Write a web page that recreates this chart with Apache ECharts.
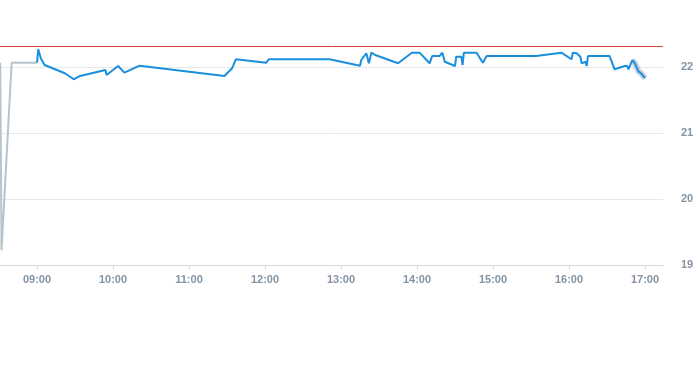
<!DOCTYPE html>
<html>
<head>
<meta charset="utf-8">
<script src="https://cdn.jsdelivr.net/npm/echarts@6/dist/echarts.min.js"></script>
<style>html,body{margin:0;padding:0;background:#fff}#c{width:693px;height:365px}</style>
</head>
<body>
<div id="c"></div>
<script>
// ---- data ----
const preTimes = ["08:31", "08:32", "08:40", "09:00"];
const preValues = [22.065, 19.225, 22.065, 22.065];

const times = ["09:00","09:01","09:03","09:06","09:22","09:29","09:34","09:54","09:55","10:04",
  "10:09","10:21","11:28","11:34","11:37","12:01","12:03","12:51","13:15","13:16",
  "13:20","13:22","13:24","13:27","13:45","13:56","14:02","14:10","14:12","14:18",
  "14:20","14:22","14:30","14:31","14:35","14:36","14:37","14:47","14:52","14:55",
  "15:34","15:54","16:02","16:03","16:06","16:09","16:10","16:13","16:14","16:15",
  "16:32","16:36","16:44","16:46","16:47","16:50","16:52","16:55","16:57","17:00"];
const values = [22.065,22.268,22.132,22.03,21.905,21.814,21.864,21.955,21.879,22.015,
  21.914,22.02,21.864,21.98,22.117,22.065,22.117,22.117,22.02,22.106,
  22.208,22.056,22.217,22.182,22.056,22.217,22.217,22.056,22.167,22.167,
  22.217,22.08,22.015,22.156,22.156,22.03,22.217,22.217,22.065,22.167,
  22.167,22.217,22.117,22.217,22.208,22.156,22.056,22.08,22.015,22.167,
  22.167,21.965,22.015,22.015,21.965,22.106,22.056,21.929,21.905,21.83];

const postTimes = ["16:50","16:52","16:55","16:57","17:00"];
const postValues = [22.106,22.056,21.929,21.905,21.83];

const refLevel = 22.32;
const hourLabels = ["09:00","10:00","11:00","12:00","13:00","14:00","15:00","16:00","17:00"];
const axisStart = "08:30:48";
const axisEnd = "17:14:13";
const yTicks = [19, 20, 21, 22];

// ---- helpers ----
function toMin(s) {
  const p = s.split(":").map(Number);
  return p[0] * 60 + p[1] + (p[2] ? p[2] / 60 : 0);
}
function fmt(m) {
  const h = Math.floor(m / 60), mm = Math.round(m - h * 60);
  return String(h).padStart(2, "0") + ":" + String(mm).padStart(2, "0");
}
const pair = (ts, vs) => ts.map((t, i) => [toMin(t), vs[i]]);

const labelStyle = { color: "#8493a6", fontSize: 11, fontWeight: "bold", fontFamily: "Liberation Sans, Arial, sans-serif" };

const chart = echarts.init(document.getElementById("c"), null, { renderer: "canvas" });
chart.setOption({
  animation: false,
  grid: { left: 0, right: 30, top: 34, bottom: 100, containLabel: false, outerBoundsMode: "none" },
  xAxis: {
    type: "value",
    min: toMin(axisStart),
    max: toMin(axisEnd),
    axisLine: { show: true, lineStyle: { color: "#d3d9e0", width: 1 } },
    axisTick: { show: true, customValues: hourLabels.map(toMin), length: 4, lineStyle: { color: "#d3d9e0" } },
    axisLabel: Object.assign({ customValues: hourLabels.map(toMin), formatter: v => fmt(v), margin: 9 }, labelStyle),
    splitLine: { show: false }
  },
  yAxis: {
    type: "value",
    position: "right",
    min: 19,
    max: 22.5,
    interval: 1,
    axisLine: { show: false },
    axisTick: { show: false },
    axisLabel: Object.assign({ formatter: v => v.toFixed(2), margin: 18, customValues: yTicks }, labelStyle),
    splitLine: { show: true, showMaxLine: false, lineStyle: { color: "#e5e8ec", width: 1 } }
  },
  series: [
    {
      type: "line",
      data: pair(preTimes, preValues),
      showSymbol: false,
      lineStyle: { color: "#b9c3cc", width: 2 },
      z: 2
    },
    {
      type: "line",
      data: pair(postTimes, postValues),
      showSymbol: false,
      lineStyle: { color: "#b8c6d4", width: 6, opacity: 0.8 },
      z: 2
    },
    {
      type: "line",
      data: pair(times, values),
      showSymbol: false,
      lineStyle: { color: "#1b8fdb", width: 2 },
      z: 3,
      markLine: {
        silent: true,
        symbol: "none",
        label: { show: false },
        lineStyle: { color: "#d6443a", width: 1, type: "solid" },
        data: [{ yAxis: refLevel }]
      }
    }
  ]
});
</script>
</body>
</html>
